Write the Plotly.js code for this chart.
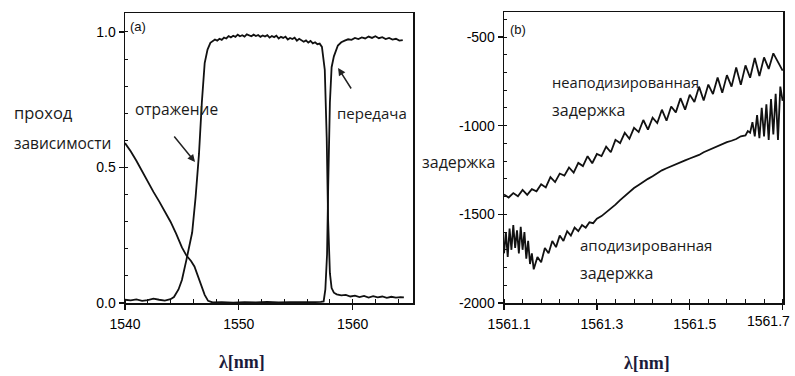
<!DOCTYPE html>
<html>
<head>
<meta charset="utf-8">
<script src="https://cdn.plot.ly/plotly-3.0.1.min.js"></script>
<style>html,body{margin:0;padding:0;background:#fff;}#chart{width:795px;height:376px;}</style>
</head>
<body>
<div id="chart"></div>
<script>
// ---- Panel (a): reflection / transmission spectra ----
const refX = [1540.0,1540.5,1541.0,1541.5,1542.0,1542.5,1543.0,1543.5,1544.0,1544.3,1544.7,1545.0,1545.4,1545.7,1545.9,1546.2,1546.5,1546.75,1547.0,1547.25,1547.5,
  1547.9,1548.1,1548.3,1548.5,1548.7,1548.9,1549.1,1549.3,1549.5,1549.7,1549.9,1550.1,1550.3,1550.5,1550.7,1550.9,1551.1,1551.3,1551.5,1551.7,1551.9,1552.1,1552.3,1552.5,1552.7,1552.9,1553.1,1553.3,1553.5,1553.7,1553.9,1554.1,1554.3,1554.5,1554.7,1554.9,1555.1,1555.3,1555.5,1555.7,1555.9,1556.1,1556.3,1556.5,1556.7,1556.9,1557.1,
  1557.3,1557.55,1557.72,1557.84,1558.0,1558.15,1558.35,1558.6,1559.0,1559.4,1559.8,1560.2,1560.6,1561.0,1561.4,1561.8,1562.2,1562.6,1563.0,1563.4,1563.8,1564.2,1564.5];
const refY = [0.012,0.010,0.013,0.008,0.011,0.016,0.012,0.009,0.014,0.022,0.05,0.085,0.16,0.22,0.26,0.39,0.55,0.74,0.885,0.935,0.96,
  0.972,0.968,0.975,0.971,0.979,0.976,0.985,0.98,0.986,0.982,0.99,0.984,0.988,0.983,0.991,0.986,0.984,0.99,0.985,0.989,0.982,0.987,0.983,0.988,0.979,0.985,0.981,0.986,0.976,0.982,0.978,0.983,0.972,0.978,0.974,0.979,0.968,0.975,0.97,0.964,0.969,0.961,0.967,0.958,0.962,0.955,0.957,
  0.945,0.86,0.61,0.31,0.11,0.055,0.038,0.032,0.028,0.03,0.024,0.027,0.022,0.026,0.02,0.025,0.021,0.024,0.019,0.023,0.02,0.022,0.021];
const transX = [1540.0,1540.5,1541.0,1541.5,1542.0,1542.5,1543.0,1543.5,1544.0,1544.5,1545.0,1545.4,1545.8,1546.1,1546.4,1546.7,1547.0,1547.3,1547.7,1548.5,1549.5,1550.5,1551.5,1552.5,1553.5,1554.5,1555.5,1556.5,1557.2,1557.45,1557.6,1557.75,1557.85,1558.0,1558.15,1558.35,1558.7,1559.0,1559.3,1559.6,1559.9,1560.2,1560.5,1560.8,1561.1,1561.4,1561.7,1562.0,1562.3,1562.6,1562.9,1563.2,1563.5,1563.8,1564.1,1564.4];
const transY = [0.59,0.56,0.525,0.485,0.445,0.41,0.375,0.34,0.30,0.255,0.205,0.175,0.155,0.135,0.10,0.065,0.03,0.008,0.002,0.003,0.001,0.003,0.002,0.004,0.002,0.003,0.002,0.003,0.004,0.006,0.05,0.18,0.43,0.74,0.87,0.91,0.95,0.962,0.968,0.973,0.971,0.978,0.974,0.98,0.976,0.983,0.978,0.984,0.977,0.981,0.974,0.978,0.972,0.975,0.968,0.97];
const xTicksA = [1540, 1550, 1560];
const yTicksA = [0, 0.5, 1.0];
const yTickTextA = ['0.0', '0.5', '1.0'];

// ---- Panel (b): group delay ----
const unapodX = [1561.10,1561.11,1561.12,1561.13,1561.14,1561.15,1561.16,1561.17,1561.18,1561.19,1561.20,1561.21,1561.22,1561.23,1561.24,1561.25,1561.26,1561.27,1561.28,1561.29,1561.30,1561.31,1561.32,1561.33,1561.34,1561.35,1561.36,1561.37,1561.38,1561.39,1561.40,1561.41,1561.42,1561.43,1561.44,1561.45,1561.46,1561.47,1561.48,1561.49,1561.50,1561.51,1561.52,1561.53,1561.54,1561.55,1561.56,1561.57,1561.58,1561.59,1561.60,1561.61,1561.62,1561.63,1561.64,1561.65,1561.66,1561.67,1561.68,1561.69,1561.70];
const unapodY = [-1388,-1405,-1380,-1398,-1362,-1390,-1358,-1370,-1330,-1348,-1290,-1318,-1270,-1282,-1236,-1265,-1210,-1228,-1172,-1212,-1160,-1172,-1118,-1150,-1080,-1098,-1040,-1074,-1012,-1036,-968,-1022,-955,-985,-910,-972,-892,-925,-845,-910,-825,-866,-780,-858,-768,-822,-728,-815,-715,-780,-672,-770,-660,-730,-618,-720,-615,-680,-592,-645,-690];
const apodX = [1561.100,1561.104,1561.108,1561.112,1561.116,1561.120,1561.124,1561.128,1561.132,1561.136,1561.140,1561.144,1561.148,1561.152,1561.156,1561.160,1561.164,1561.172,1561.180,1561.188,1561.196,1561.204,1561.212,1561.220,1561.228,1561.236,1561.244,1561.252,1561.260,1561.268,1561.276,1561.284,1561.292,1561.300,1561.31,1561.32,1561.33,1561.34,1561.35,1561.36,1561.37,1561.38,1561.39,1561.40,1561.41,1561.42,1561.43,1561.44,1561.45,1561.46,1561.47,1561.48,1561.49,1561.50,1561.51,1561.52,1561.53,1561.54,1561.55,1561.56,1561.57,1561.58,1561.59,1561.60,1561.61,1561.62,1561.625,1561.630,1561.635,1561.640,1561.645,1561.650,1561.655,1561.660,1561.665,1561.670,1561.675,1561.680,1561.685,1561.690,1561.695,1561.700];
const apodY = [-1720,-1600,-1740,-1580,-1700,-1560,-1690,-1590,-1720,-1570,-1700,-1600,-1750,-1650,-1780,-1720,-1810,-1740,-1770,-1690,-1720,-1650,-1685,-1620,-1650,-1595,-1620,-1575,-1595,-1560,-1575,-1545,-1550,-1525,-1510,-1490,-1465,-1445,-1420,-1398,-1372,-1352,-1335,-1315,-1300,-1285,-1268,-1252,-1240,-1230,-1218,-1208,-1196,-1185,-1176,-1165,-1150,-1138,-1127,-1115,-1105,-1093,-1085,-1075,-1060,-1055,-1030,-1040,-980,-1060,-940,-1070,-900,-1060,-880,-1080,-850,-1050,-820,-1080,-780,-860];
const xTicksB = [1561.1, 1561.3, 1561.5, 1561.7];
const xTickTextB = ['1561.1', '1561.3', '1561.5', '1561.7'];
const yTicksB = [-2000, -1500, -1000, -500];
const yTickTextB = ['-2000', '-1500', '-1000', '-500'];

const lineStyle = {color: '#111', width: 1.8};
const tickFont = {family: 'Liberation Sans, Arial, sans-serif', size: 14, color: '#000'};
const textFont = {family: 'Open Sans, Noto Sans, sans-serif', size: 15, color: '#1a1a1a'};
const titleFont = {family: 'Liberation Serif, Times New Roman, serif', size: 18, color: '#1b1b3a'};
const sz = s => Object.assign({}, textFont, {size: s});

const traces = [
  {x: refX, y: refY, xaxis: 'x', yaxis: 'y', mode: 'lines', line: lineStyle, hoverinfo: 'skip'},
  {x: transX, y: transY, xaxis: 'x', yaxis: 'y', mode: 'lines', line: lineStyle, hoverinfo: 'skip'},
  {x: unapodX, y: unapodY, xaxis: 'x2', yaxis: 'y2', mode: 'lines', line: lineStyle, hoverinfo: 'skip'},
  {x: apodX, y: apodY, xaxis: 'x2', yaxis: 'y2', mode: 'lines', line: lineStyle, hoverinfo: 'skip'}
];

const W = 795, H = 376;
const px = v => v / W;
const py = v => 1 - v / H;

function txt(t, x, y, opts) {
  return Object.assign({text: t, xref: 'paper', yref: 'paper', x: px(x), y: py(y),
    xanchor: 'left', yanchor: 'middle', showarrow: false, font: textFont}, opts || {});
}

const axisCommon = {
  showgrid: false, zeroline: false, showline: true, linecolor: '#111', linewidth: 1.5,
  mirror: true, ticks: 'outside', ticklen: 5, tickwidth: 1.3, tickcolor: '#111',
  tickfont: tickFont, fixedrange: true
};

// last x-tick label of panel (b) sits at the page edge: drawn right-aligned so it stays whole
const xTickTextBShown = xTickTextB.slice(0, -1).concat(['']);

const layout = {
  width: W, height: H,
  margin: {l: 0, r: 0, t: 0, b: 0},
  paper_bgcolor: '#fff', plot_bgcolor: '#fff',
  showlegend: false,
  xaxis: Object.assign({}, axisCommon, {
    domain: [px(125), px(413)], range: [1540, 1565.3], anchor: 'y',
    tickvals: xTicksA, ticklabelstandoff: 3,
    minor: {dtick: 2, tick0: 1540, ticks: 'inside', ticklen: 4, tickcolor: '#111', tickwidth: 1}
  }),
  yaxis: Object.assign({}, axisCommon, {
    domain: [1 - 303 / H, 1 - 13 / H], range: [0, 1.07], anchor: 'x',
    tickvals: yTicksA, ticktext: yTickTextA,
    minor: {dtick: 0.1, tick0: 0, ticks: 'inside', ticklen: 3, tickcolor: '#111', tickwidth: 1}
  }),
  xaxis2: Object.assign({}, axisCommon, {
    domain: [px(504), px(783)], range: [1561.1, 1561.7008], anchor: 'y2',
    tickvals: xTicksB, ticktext: xTickTextBShown, ticklabelstandoff: 3, ticklabelshift: 5,
    minor: {dtick: 0.04, tick0: 1561.1, ticks: 'inside', ticklen: 4, tickcolor: '#111', tickwidth: 1}
  }),
  yaxis2: Object.assign({}, axisCommon, {
    domain: [1 - 303 / H, 1 - 12 / H], range: [-2000, -359], anchor: 'x2',
    tickvals: yTicksB, ticktext: yTickTextB,
    minor: {dtick: 100, tick0: -2000, ticks: 'inside', ticklen: 3, tickcolor: '#111', tickwidth: 1}
  }),
  annotations: [
    txt('проход', 12, 112, {font: sz(16.5)}),
    txt('зависимости', 12, 143, {font: sz(15.5)}),
    txt('отражение', 133, 109, {font: sz(15.5)}),
    txt('передача', 335, 113),
    txt('задержка', 420, 162, {font: sz(16)}),
    txt('неаподизированная', 550, 82, {font: sz(14.7)}),
    txt('задержка', 550, 110, {font: sz(16)}),
    txt('аподизированная', 578, 245),
    txt('задержка', 578, 273, {font: sz(16)}),
    txt(xTickTextB[xTickTextB.length - 1], 792, 321, {xanchor: 'right', font: tickFont}),
    txt('<b>λ[nm]</b>', 242, 362, {xanchor: 'center', font: titleFont}),
    txt('<b>λ[nm]</b>', 647, 363, {xanchor: 'center', font: titleFont}),
    txt('(a)', 128, 27, {font: {family: 'Liberation Sans, sans-serif', size: 13, color: '#111'}}),
    txt('(b)', 508, 30, {font: {family: 'Liberation Sans, sans-serif', size: 13, color: '#111'}}),
    {xref: 'x', yref: 'y', x: 1546.15, y: 0.52, ax: -22, ay: -27, text: '', showarrow: true,
     arrowhead: 2, arrowsize: 1, arrowwidth: 1.5, arrowcolor: '#222'},
    {xref: 'x', yref: 'y', x: 1558.72, y: 0.867, ax: 14, ay: 22, text: '', showarrow: true,
     arrowhead: 2, arrowsize: 1, arrowwidth: 1.5, arrowcolor: '#222'}
  ]
};

Plotly.newPlot('chart', traces, layout, {displayModeBar: false, staticPlot: true});
</script>
</body>
</html>
